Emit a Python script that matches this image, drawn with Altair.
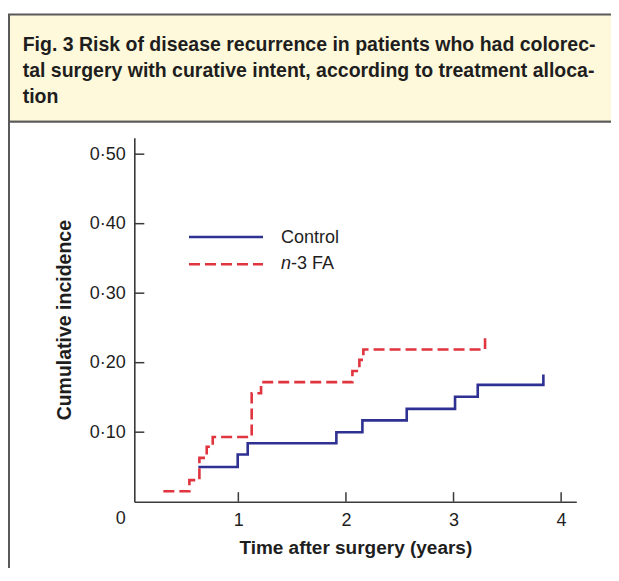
import altair as alt
import pandas as pd

# ---------------- data ----------------
title_lines = [
    "Fig. 3 Risk of disease recurrence in patients who had colorec-",
    "tal surgery with curative intent, according to treatment alloca-",
    "tion",
]
series_names = ["Control", "n-3 FA"]

control_time = [0.628, 0.994, 1.087, 1.911, 2.153, 2.565, 3.014, 3.225, 3.835]
control_inc = [0.050, 0.068, 0.084, 0.100, 0.117, 0.1335, 0.151, 0.168, 0.183]

fa_time = [0.303, 0.545, 0.638, 0.706, 0.762, 1.124, 1.211, 2.060, 2.125, 2.162, 3.293]
fa_inc = [0.015, 0.031, 0.063, 0.079, 0.093, 0.156, 0.172, 0.188, 0.204, 0.219, 0.235]

x_ticks = [1, 2, 3, 4]
y_ticks = [0.1, 0.2, 0.3, 0.4, 0.5]
x_corner_label = ["0"]

x_title = "Time after surgery (years)"
y_title = "Cumulative incidence"

# ---------------- styling ----------------
FONT = "Liberation Sans"
BLUE = "#2E3192"
RED = "#E0353F"
AXIS = "#3a3a3a"
TEXT = "#1e1e1e"
BOX = "#5a5a5a"
HEADER_FILL = "#FEF9DA"

W, H = 442, 364
xscale = alt.Scale(domain=[0.033, 4.141], nice=False, zero=False)
yscale = alt.Scale(domain=[0, 0.5237], nice=False, zero=False)

xaxis = alt.Axis(
    values=x_ticks, ticks=False, tickSize=0, grid=False, labelFlush=False,
    labelPadding=10, labelFontSize=18, labelFont=FONT, labelColor=TEXT,
    domainColor=AXIS, domainWidth=1.6, zindex=1,
    titleFont=FONT, titleFontSize=19, titleFontWeight="bold", titleColor=TEXT,
    titleY=52.3, titleBaseline="alphabetic",
)
yaxis = alt.Axis(
    values=y_ticks, ticks=False, tickSize=0, grid=False, labelFlush=False,
    labelExpr="replace(format(datum.value, '.2f'), '.', '·')",
    labelPadding=9, labelFontSize=18, labelFont=FONT, labelColor=TEXT,
    domainColor=AXIS, domainWidth=1.6, zindex=1,
    titleFont=FONT, titleFontSize=19.5, titleFontWeight="bold", titleColor=TEXT,
    titleX=-64.2, titleY=H / 2, titleAngle=270, titleAlign="center",
    titleBaseline="alphabetic",
)


def X(field):
    return alt.X(field, type="quantitative", scale=xscale, axis=xaxis, title=x_title)


def Y(field):
    return alt.Y(field, type="quantitative", scale=yscale, axis=yaxis, title=y_title)


one = pd.DataFrame({"k": [0]})

# ---------------- frame (decoration) ----------------
header_box = alt.Chart(one).mark_rect(
    fill=HEADER_FILL, stroke=BOX, strokeWidth=2
).encode(x=alt.value(-125.3), x2=alt.value(506), y=alt.value(-123.2), y2=alt.value(-16))

lower_box = alt.Chart(one).mark_rect(
    fill="white", stroke=BOX, strokeWidth=2
).encode(x=alt.value(-125.3), x2=alt.value(506), y=alt.value(-16), y2=alt.value(520))

title_layers = []
for i, line in enumerate(title_lines):
    title_layers.append(
        alt.Chart(pd.DataFrame({"t": [line]})).mark_text(
            font=FONT, fontSize=19.5, fontWeight="bold", color=TEXT,
            align="left", baseline="alphabetic",
        ).encode(x=alt.value(-111.6), y=alt.value(-87 + 26.4 * i), text="t:N")
    )

# ---------------- inward tick marks ----------------
xtick_rules = alt.Chart(pd.DataFrame({"v": x_ticks})).mark_rule(
    color=AXIS, strokeWidth=1.5
).encode(x=X("v"), y=alt.value(H), y2=alt.value(H - 9.5))

ytick_rules = alt.Chart(pd.DataFrame({"v": y_ticks})).mark_rule(
    color=AXIS, strokeWidth=1.5
).encode(y=Y("v"), x=alt.value(0), x2=alt.value(10))

zero_label = alt.Chart(pd.DataFrame({"v": [0], "t": x_corner_label})).mark_text(
    font=FONT, fontSize=18, color=TEXT, align="center", baseline="middle", dx=-10
).encode(x=X("v"), y=alt.value(381.3), text="t:N")

# ---------------- curves ----------------
control_line = alt.Chart(
    pd.DataFrame({"x": control_time, "y": control_inc})
).mark_line(interpolate="step-after", color=BLUE, strokeWidth=2.6).encode(
    x=X("x"), y=Y("y")
)

fa_line = alt.Chart(
    pd.DataFrame({"x": fa_time, "y": fa_inc})
).mark_line(
    interpolate="step-after", color=RED, strokeWidth=2.6, strokeDash=[11, 5]
).encode(x=X("x"), y=Y("y"))

# ---------------- legend ----------------
leg_ctrl_line = alt.Chart(one).mark_rule(color=BLUE, strokeWidth=2.6).encode(
    x=alt.value(54.7), x2=alt.value(128.7), y=alt.value(99.3)
)
leg_fa_line = alt.Chart(one).mark_rule(
    color=RED, strokeWidth=2.6, strokeDash=[11, 5]
).encode(x=alt.value(54.7), x2=alt.value(128.7), y=alt.value(126.6))

leg_ctrl_text = alt.Chart(pd.DataFrame({"t": [series_names[0]]})).mark_text(
    font=FONT, fontSize=18, color=TEXT, align="left", baseline="alphabetic"
).encode(x=alt.value(146.7), y=alt.value(105.6), text="t:N")

fa_italic, fa_rest = series_names[1][0], series_names[1][1:]
leg_fa_text1 = alt.Chart(pd.DataFrame({"t": [fa_italic]})).mark_text(
    font=FONT, fontSize=18, fontStyle="italic", color=TEXT, align="left",
    baseline="alphabetic",
).encode(x=alt.value(146.7), y=alt.value(131.3), text="t:N")
leg_fa_text2 = alt.Chart(pd.DataFrame({"t": [fa_rest]})).mark_text(
    font=FONT, fontSize=18, color=TEXT, align="left", baseline="alphabetic"
).encode(x=alt.value(156.7), y=alt.value(131.3), text="t:N")

chart = alt.layer(
    header_box, lower_box, *title_layers,
    xtick_rules, ytick_rules,
    control_line, fa_line,
    leg_ctrl_line, leg_fa_line, leg_ctrl_text, leg_fa_text1, leg_fa_text2,
    zero_label,
).properties(
    width=W, height=H,
    padding={"left": 126.3, "top": 129.7, "right": 34.7, "bottom": 66},
    autosize=alt.AutoSizeParams(type="none"),
    background="white",
).configure_view(stroke=None)

chart.save("out.html", embed_options={"renderer": "svg", "actions": False})
